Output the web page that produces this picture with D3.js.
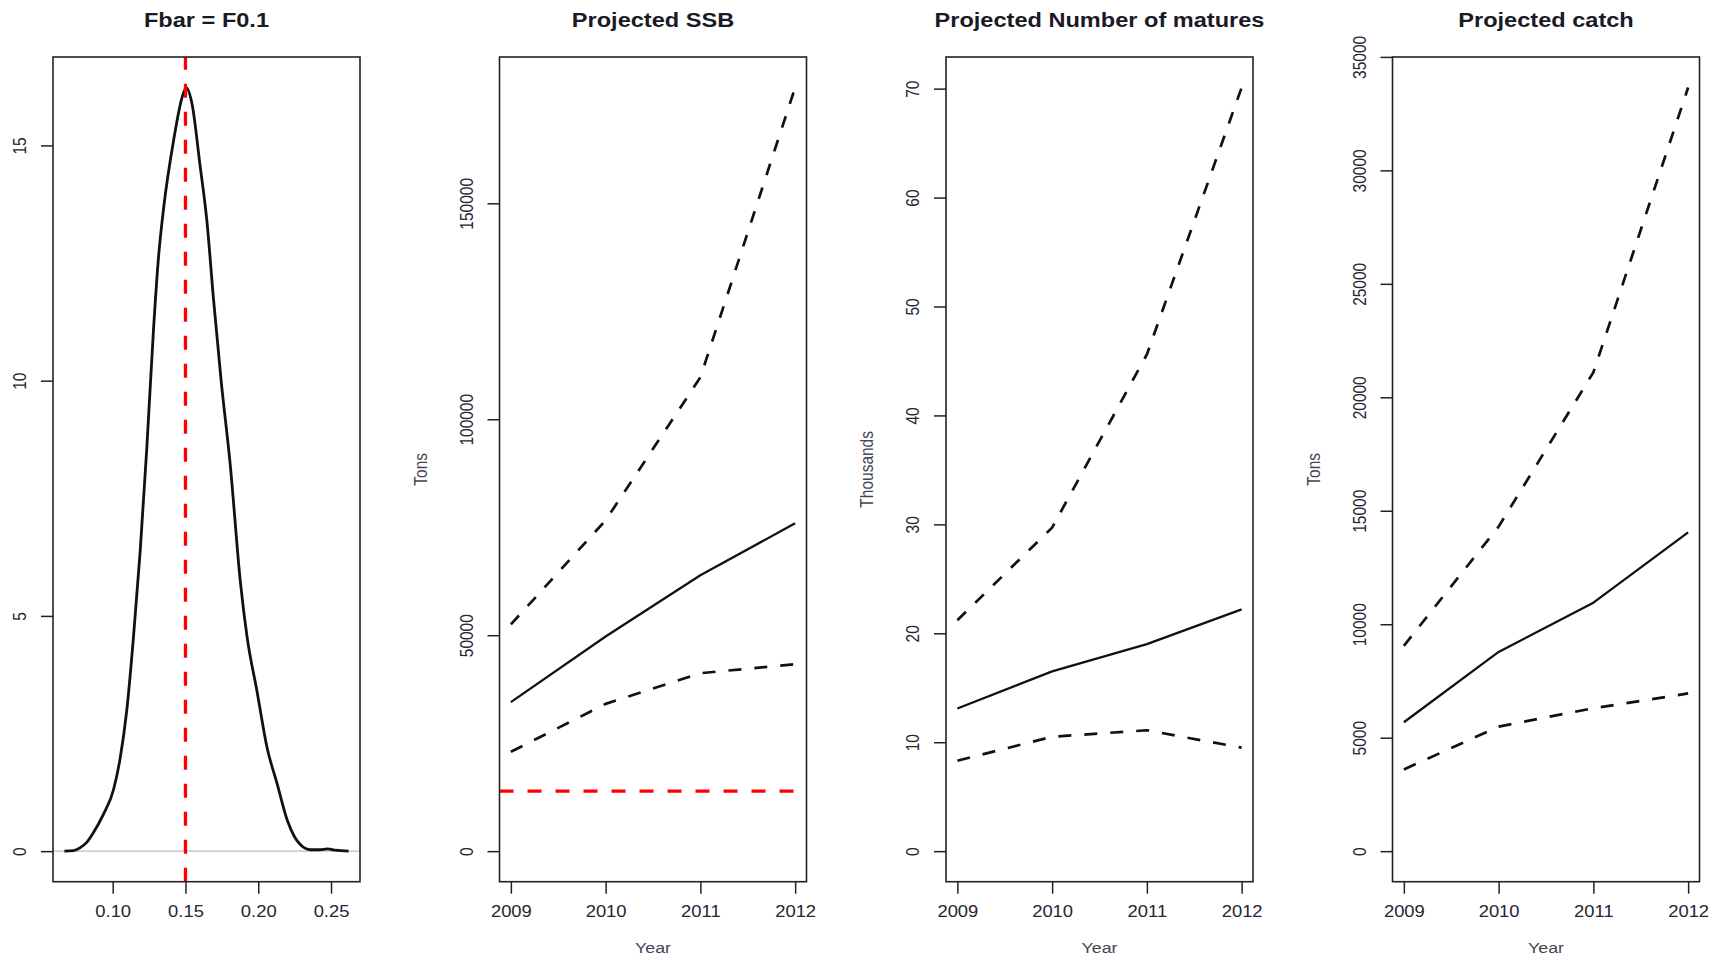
<!DOCTYPE html>
<html>
<head>
<meta charset="utf-8">
<script src="https://cdn.jsdelivr.net/npm/d3@7"></script>
<style>
  html, body { margin: 0; padding: 0; background: #fff; }
  svg { display: block; font-family: "Liberation Sans", Arial, Helvetica, sans-serif; }
</style>
</head>
<body>
<svg id="chart" width="1724" height="960"></svg>
<script>
// ---- Fbar density (F0.1 reference) ----
const fbarX = [0.0668, 0.0730, 0.0775, 0.0820, 0.0867, 0.0936, 0.1005, 0.1050, 0.1097, 0.1143,
  0.1189, 0.1235, 0.1280, 0.1315, 0.1350, 0.1418, 0.1475, 0.1505, 0.1544, 0.1600,
  0.1647, 0.1693, 0.1745, 0.1808, 0.1877, 0.1923, 0.1992, 0.2060, 0.2130, 0.2200,
  0.2250, 0.2292, 0.2360, 0.2420, 0.2476, 0.2530, 0.2621];
const fbarDensity = [0.00, 0.01, 0.07, 0.18, 0.39, 0.78, 1.30, 1.95, 3.00, 4.56,
  6.38, 8.60, 11.07, 12.63, 13.67, 15.10, 16.00, 16.23, 15.90, 14.58,
  13.40, 11.72, 10.00, 8.20, 5.73, 4.56, 3.39, 2.21, 1.43, 0.65,
  0.30, 0.13, 0.03, 0.03, 0.05, 0.02, 0.00];
const fbarRef = 0.15;
const fbarTicks = [0.10, 0.15, 0.20, 0.25];
const densityTicks = [0, 5, 10, 15];

// ---- Projections ----
const years = [2009, 2010, 2011, 2012];

const ssbMedian = [34500, 49700, 63900, 75900];
const ssbUpper  = [52500, 76600, 109700, 176800];
const ssbLower  = [23000, 34100, 41200, 43300];
const ssbBlim   = 13900;
const ssbTicks  = [0, 50000, 100000, 150000];

const matMedian = [13.1, 16.5, 19.0, 22.2];
const matUpper  = [21.2, 29.7, 45.6, 70.1];
const matLower  = [8.3, 10.5, 11.1, 9.5];
const matTicks  = [0, 10, 20, 30, 40, 50, 60, 70];

const catchMedian = [5680, 8780, 10950, 14050];
const catchUpper  = [9050, 14300, 21100, 33650];
const catchLower  = [3600, 5490, 6300, 6950];
const catchTicks  = [0, 5000, 10000, 15000, 20000, 25000, 30000, 35000];

// ---- Layout ----
const svg = d3.select("#chart");
const boxTop = 57, boxBottom = 881.7, boxW = 307;
const panelLeft = i => 53 + i * 446.5;
const STRETCH = 1.15;
const tickCol = "#262630", titleCol = "#1a1a26", labCol = "#454552";

// R-style padded range: 4% on each side
function pad(lo, hi) { const r = hi - lo; return [lo - 0.04 * r, hi + 0.04 * r]; }

function stretchedText(g, x, y, txt, opts) {
  const rot = opts.rotate ? " rotate(-90)" : "";
  return g.append("text")
    .attr("transform", `translate(${x},${y}) scale(${STRETCH},1)${rot}`)
    .attr("text-anchor", "middle")
    .attr("font-size", opts.size)
    .attr("font-weight", opts.bold ? "bold" : "normal")
    .attr("fill", opts.fill)
    .text(txt);
}

function drawPanel(i, cfg) {
  const x0 = panelLeft(i), x1 = x0 + boxW;
  const g = svg.append("g");
  const x = d3.scaleLinear().domain(cfg.xDomain).range([x0, x1]);
  const y = d3.scaleLinear().domain(cfg.yDomain).range([boxBottom, boxTop]);

  // y axis (left)
  const ya = g.append("g").attr("transform", `translate(${x0},0)`)
    .call(d3.axisLeft(y).tickValues(cfg.yTicks).tickSize(12).tickFormat(cfg.yFormat || d3.format("d")));
  ya.select(".domain").remove();
  ya.selectAll(".tick line").attr("stroke", "#222").attr("stroke-width", 1.5);
  ya.selectAll(".tick text")
    .attr("x", null).attr("dy", null)
    .attr("transform", `translate(-27,0) scale(${STRETCH},1) rotate(-90)`)
    .attr("text-anchor", "middle")
    .attr("font-size", 15.5).attr("fill", tickCol)
    .attr("font-family", "Liberation Sans, Arial, sans-serif");

  // x axis (bottom)
  const xa = g.append("g").attr("transform", `translate(0,${boxBottom})`)
    .call(d3.axisBottom(x).tickValues(cfg.xTicks).tickSize(12).tickFormat(cfg.xFormat));
  xa.select(".domain").remove();
  xa.selectAll(".tick line").attr("stroke", "#222").attr("stroke-width", 1.5);
  xa.selectAll(".tick text")
    .attr("y", null).attr("dy", null)
    .attr("transform", `translate(0,35.5) scale(${STRETCH},1)`)
    .attr("text-anchor", "middle")
    .attr("font-size", 16).attr("fill", tickCol)
    .attr("font-family", "Liberation Sans, Arial, sans-serif");

  // title and axis labels
  stretchedText(g, (x0 + x1) / 2, 26.5, cfg.title, { size: 20.5, bold: true, fill: titleCol });
  if (cfg.xLabel) stretchedText(g, (x0 + x1) / 2, 953, cfg.xLabel, { size: 15.5, fill: labCol });
  if (cfg.yLabel) stretchedText(g, x0 - 73, (boxTop + boxBottom) / 2, cfg.yLabel, { size: 15.5, fill: labCol, rotate: true });

  cfg.draw(g, x, y);

  // plot box
  g.append("rect")
    .attr("x", x0).attr("y", boxTop)
    .attr("width", boxW).attr("height", boxBottom - boxTop)
    .attr("fill", "none").attr("stroke", "#222").attr("stroke-width", 1.6);
}

// Fan of projection lines: median solid, bounds dashed
function drawFan(median, upper, lower) {
  return (g, x, y) => {
    const line = d3.line().x((d, k) => x(years[k])).y(d => y(d));
    [[upper, "12,13"], [lower, "13,13"], [median, null]].forEach(([vals, dash]) => {
      g.append("path").datum(vals)
        .attr("d", line)
        .attr("fill", "none")
        .attr("stroke", "#111")
        .attr("stroke-width", dash ? 2.7 : 2.3)
        .attr("stroke-linejoin", "round")
        .attr("stroke-dasharray", dash);
    });
  };
}

const yearFmt = d3.format("d");

// Panel 1: Fbar density
drawPanel(0, {
  title: "Fbar = F0.1",
  xDomain: pad(d3.min(fbarX), d3.max(fbarX)),
  yDomain: pad(0, d3.max(fbarDensity)),
  xTicks: fbarTicks, xFormat: d3.format(".2f"),
  yTicks: densityTicks,
  draw: (g, x, y) => {
    g.append("line")
      .attr("x1", x.range()[0]).attr("x2", x.range()[1])
      .attr("y1", y(0)).attr("y2", y(0))
      .attr("stroke", "#bebebe").attr("stroke-width", 1.2);
    g.append("path")
      .datum(fbarX.map((v, k) => [v, fbarDensity[k]]))
      .attr("d", d3.line().x(d => x(d[0])).y(d => y(d[1])).curve(d3.curveMonotoneX))
      .attr("fill", "none").attr("stroke", "#111").attr("stroke-width", 2.8);
    g.append("line")
      .attr("x1", x(fbarRef)).attr("x2", x(fbarRef))
      .attr("y1", boxBottom).attr("y2", boxTop)
      .attr("stroke", "#ff0000").attr("stroke-width", 3.3)
      .attr("stroke-dasharray", "14,14");
  }
});

// Panel 2: SSB
drawPanel(1, {
  title: "Projected SSB", xLabel: "Year", yLabel: "Tons",
  xDomain: pad(2009, 2012), yDomain: pad(0, d3.max(ssbUpper)),
  xTicks: years, xFormat: yearFmt, yTicks: ssbTicks,
  draw: (g, x, y) => {
    drawFan(ssbMedian, ssbUpper, ssbLower)(g, x, y);
    g.append("line")
      .attr("x1", x.range()[0]).attr("x2", x(2012))
      .attr("y1", y(ssbBlim)).attr("y2", y(ssbBlim))
      .attr("stroke", "#ff0000").attr("stroke-width", 3.3)
      .attr("stroke-dasharray", "14,14");
  }
});

// Panel 3: Number of matures
drawPanel(2, {
  title: "Projected Number of matures", xLabel: "Year", yLabel: "Thousands",
  xDomain: pad(2009, 2012), yDomain: pad(0, d3.max(matUpper)),
  xTicks: years, xFormat: yearFmt, yTicks: matTicks,
  draw: drawFan(matMedian, matUpper, matLower)
});

// Panel 4: Catch
drawPanel(3, {
  title: "Projected catch", xLabel: "Year", yLabel: "Tons",
  xDomain: pad(2009, 2012), yDomain: pad(0, d3.max(catchUpper)),
  xTicks: years, xFormat: yearFmt, yTicks: catchTicks,
  draw: drawFan(catchMedian, catchUpper, catchLower)
});
</script>
</body>
</html>
